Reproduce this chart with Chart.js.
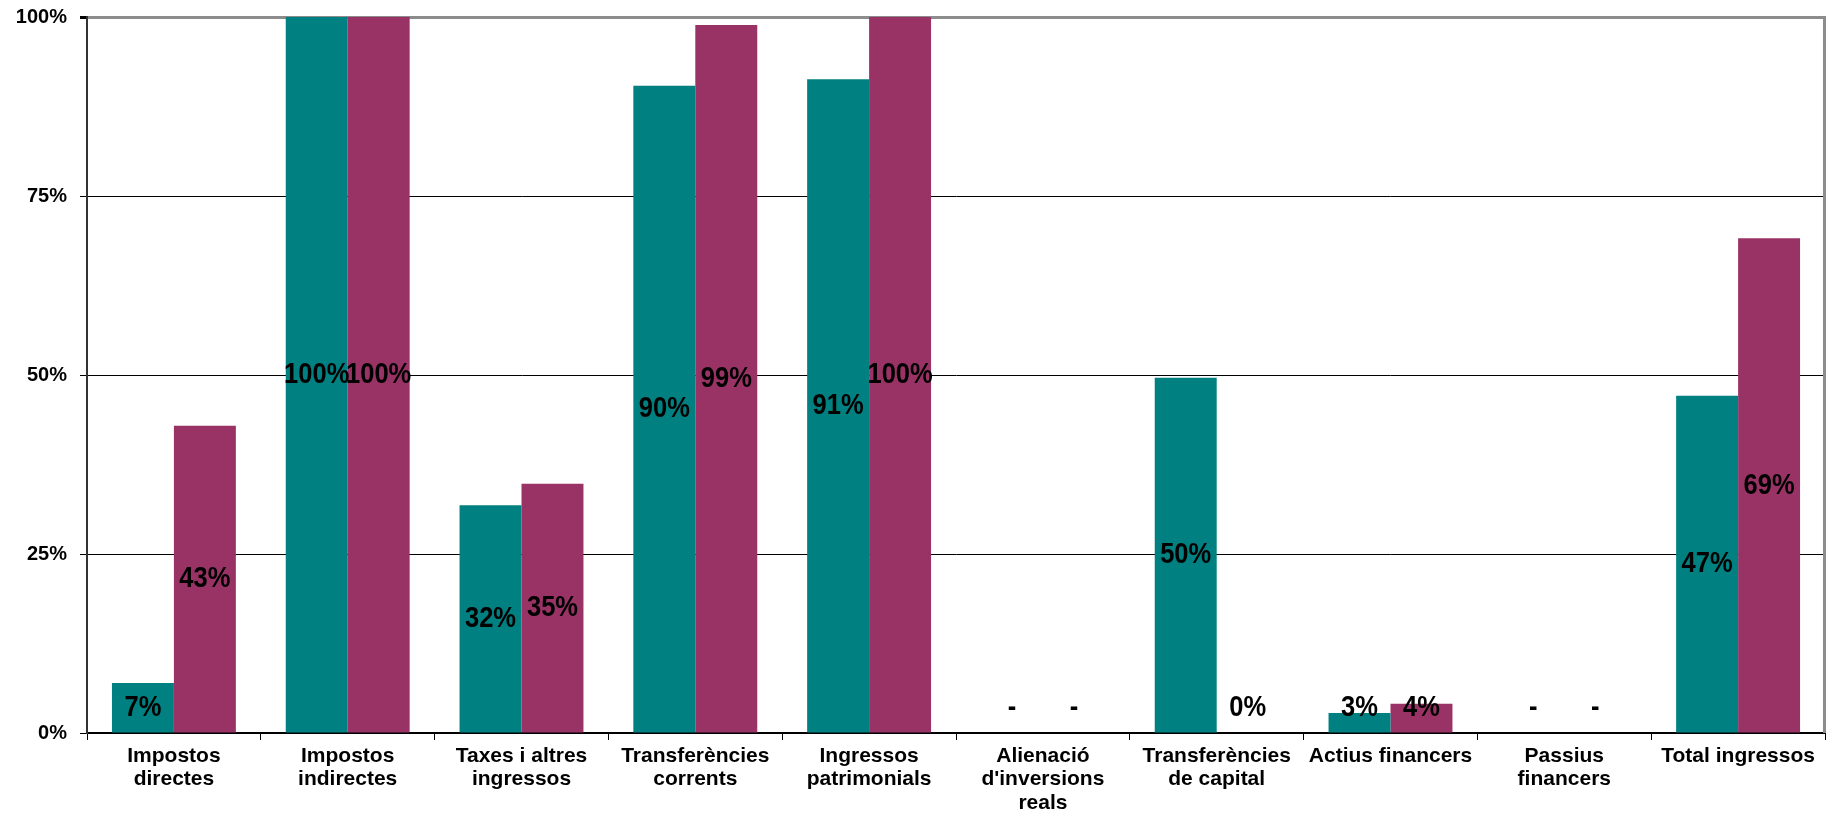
<!DOCTYPE html>
<html>
<head>
<meta charset="utf-8">
<script src="https://cdn.jsdelivr.net/npm/chart.js@4/dist/chart.umd.min.js"></script>
<style>
html,body{margin:0;padding:0;background:#fff;}
#wrap{width:1833px;height:821px;}
</style>
</head>
<body>
<div id="wrap"><canvas id="c" width="1833" height="821"></canvas></div>
<script>
const categories = [
  ["Impostos", "directes"],
  ["Impostos", "indirectes"],
  ["Taxes i altres", "ingressos"],
  ["Transferències", "corrents"],
  ["Ingressos", "patrimonials"],
  ["Alienació", "d'inversions", "reals"],
  ["Transferències", "de capital"],
  ["Actius financers"],
  ["Passius", "financers"],
  ["Total ingressos"]
];
const seriesTeal = [7.0, 100, 31.8, 90.4, 91.3, null, 49.6, 2.8, null, 47.1];
const seriesMagenta = [42.9, 100, 34.8, 98.9, 100, null, 0, 4.1, null, 69.1];
const yTicks = [0, 25, 50, 75, 100];

const CAT_PCT = 0.713;

const labelPlugin = {
  id: 'barLabels',
  afterDatasetsDraw(chart) {
    const ctx = chart.ctx;
    const xs = chart.scales.x, ys = chart.scales.y;
    const n = categories.length;
    const catW = xs.width / n;
    const barW = catW * CAT_PCT / 2;
    const base = ys.getPixelForValue(0);
    ctx.save();
    ctx.fillStyle = '#000';
    ctx.font = 'bold 29px "Liberation Sans", Arial, sans-serif';
    ctx.textAlign = 'center';
    ctx.textBaseline = 'middle';
    chart.data.datasets.forEach((ds, di) => {
      ds.data.forEach((v, i) => {
        const cx = xs.getPixelForValue(i) + (di - 0.5) * barW;
        let text, y;
        if (v === null || v === undefined) {
          text = '-';
          y = base - 25;
        } else {
          text = Math.round(v) + '%';
          const top = ys.getPixelForValue(v);
          y = Math.min((top + base) / 2, base - 25);
        }
        ctx.save();
        ctx.translate(cx, y);
        ctx.scale(0.88, 1);
        ctx.fillText(text, 0, 0);
        ctx.restore();
      });
    });
    // right border of plot area
    const a = chart.chartArea;
    ctx.strokeStyle = '#8c8c8c';
    ctx.lineWidth = 3;
    ctx.beginPath();
    ctx.moveTo(a.right - 0.5, a.top - 1);
    ctx.lineTo(a.right - 0.5, a.bottom);
    ctx.stroke();
    ctx.restore();
  }
};

new Chart(document.getElementById('c'), {
  type: 'bar',
  data: {
    labels: categories,
    datasets: [
      { data: seriesTeal, backgroundColor: '#008080', borderWidth: 0, categoryPercentage: CAT_PCT, barPercentage: 1 },
      { data: seriesMagenta, backgroundColor: '#993366', borderWidth: 0, categoryPercentage: CAT_PCT, barPercentage: 1 }
    ]
  },
  options: {
    responsive: false,
    devicePixelRatio: 1,
    animation: false,
    layout: { padding: { top: 17, right: 8, left: 0, bottom: 0 } },
    plugins: { legend: { display: false }, tooltip: { enabled: false } },
    scales: {
      x: {
        afterFit(s) { s.height = 88; s.paddingLeft = 0; s.paddingRight = 0; },
        grid: { offset: true, drawOnChartArea: false, drawTicks: true, tickLength: 7, color: '#000', tickColor: '#000', lineWidth: 1 },
        border: { color: '#000', width: 2 },
        ticks: {
          color: '#000',
          padding: 5,
          maxRotation: 0,
          autoSkip: false,
          font: { family: '"Liberation Sans", Arial, sans-serif', size: 21, weight: 'bold', lineHeight: 1.1 }
        }
      },
      y: {
        min: 0,
        max: 100,
        afterFit(s) { s.width = 87; s.paddingTop = 0; s.paddingBottom = 0; },
        afterBuildTicks(s) { s.ticks = yTicks.map(v => ({ value: v })); },
        grid: {
          drawTicks: true,
          tickLength: 7,
          tickColor: '#000',
          color: (c) => (c.tick && c.tick.value === 100) ? '#8c8c8c' : '#000',
          lineWidth: (c) => (c.tick && c.tick.value === 100) ? 3 : 1
        },
        border: { color: '#333', width: 2 },
        ticks: {
          color: '#000',
          padding: 13,
          callback: (v) => v + '%',
          font: { family: '"Liberation Sans", Arial, sans-serif', size: 20, weight: 'bold' }
        }
      }
    }
  },
  plugins: [labelPlugin]
});
</script>
</body>
</html>
